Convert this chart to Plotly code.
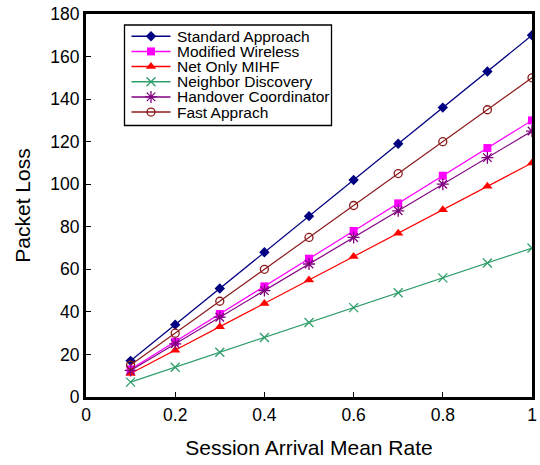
import plotly.graph_objects as go

x_rate = [0.1, 0.2, 0.3, 0.4, 0.5, 0.6, 0.7, 0.8, 0.9, 1.0]
standard = [17, 34, 51, 68, 85, 102, 119, 136, 153, 170]
modified = [13, 26, 39, 52, 65, 78, 91, 104, 117, 130]
net_only = [11, 22, 33, 44, 55, 66, 77, 88, 99, 110]
neighbor = [7, 14, 21, 28, 35, 42, 49, 56, 63, 70]
handover = [12.5, 25, 37.5, 50, 62.5, 75, 87.5, 100, 112.5, 125]
fast = [15, 30, 45, 60, 75, 90, 105, 120, 135, 150]

series_names = ["Standard Approach", "Modified Wireless", "Net Only MIHF",
                "Neighbor Discovery", "Handover Coordinator", "Fast Apprach"]
series_values = [standard, modified, net_only, neighbor, handover, fast]
series_colors = ["#000080", "#FF00FF", "#FF0000", "#2E9E6A", "#800080", "#8B1A1A"]
series_symbols = ["diamond", "square", "triangle-up", "x-thin-open", "asterisk-open", "circle-open"]
series_sizes = [8, 8, 9, 9, 10, 8]
series_open = [False, False, False, True, True, True]

# plot area in page pixels
L, R, T, B = 86, 532, 14, 397
W, H = 540, 465

fig = go.Figure()
for name, ys, color, sym, size, op in zip(series_names, series_values, series_colors,
                                           series_symbols, series_sizes, series_open):
    marker = dict(symbol=sym, size=size, color=color)
    if op:
        marker["line"] = dict(color=color, width=1.3)
    fig.add_trace(go.Scatter(x=x_rate, y=ys, name=name, mode="lines+markers",
                             line=dict(color=color, width=1.2), marker=marker,
                             showlegend=False))

# custom legend (pixel coordinates via overlay axes)
leg_left, leg_top, leg_right, leg_bottom = 124.5, 25, 331.5, 125.5
row0, row_step = 36.3, 15.15
for i, (name, color, sym, size, op) in enumerate(zip(series_names, series_colors,
                                                     series_symbols, series_sizes, series_open)):
    yy = row0 + i * row_step
    marker = dict(symbol=sym, size=size, color=color)
    if op:
        marker["line"] = dict(color=color, width=1.3)
    fig.add_trace(go.Scatter(x=[131.5, 151, 170.5], y=[yy, yy, yy], mode="lines+markers",
                             line=dict(color=color, width=1.5), marker=marker,
                             selectedpoints=[1], unselected=dict(marker=dict(opacity=0)),
                             xaxis="x2", yaxis="y2", showlegend=False, hoverinfo="skip"))
    fig.add_annotation(x=175, y=yy, xref="x2", yref="y2", text=name, showarrow=False,
                       xanchor="left", yanchor="middle",
                       font=dict(size=15.5, color="black"))

fig.add_shape(type="rect", xref="x2", yref="y2", x0=leg_left, x1=leg_right,
              y0=leg_top, y1=leg_bottom, line=dict(color="black", width=1.3),
              fillcolor="rgba(0,0,0,0)", layer="above")

fig.update_layout(
    width=W, height=H,
    margin=dict(l=L, r=W - R, t=T, b=H - B),
    paper_bgcolor="white", plot_bgcolor="white",
    font=dict(family="Liberation Sans, Arial", color="black"),
    showlegend=False,
    xaxis2=dict(overlaying="x", range=[L, R], visible=False, fixedrange=True),
    yaxis2=dict(overlaying="y", range=[B, T], visible=False, fixedrange=True),
)
fig.layout.xaxis.update(range=[0, 1], tickvals=[0, 0.2, 0.4, 0.6, 0.8, 1],
                        ticktext=["0", "0.2", "0.4", "0.6", "0.8", "1"],
                        ticks="inside", ticklen=5, tickwidth=1, tickcolor="black",
                        showline=True, linecolor="black", linewidth=3, mirror=True,
                        showgrid=False, zeroline=False, tickfont=dict(size=17.5),
                        automargin=False,
                        title=dict(text="Session Arrival Mean Rate", font=dict(size=21), standoff=17))
fig.layout.yaxis.update(range=[0, 180], tickvals=list(range(0, 181, 20)),
                        ticks="inside", ticklen=5, tickwidth=1, tickcolor="black",
                        showline=True, linecolor="black", linewidth=3, mirror=True,
                        showgrid=False, zeroline=False, tickfont=dict(size=17.5),
                        automargin=False,
                        title=dict(text="Packet Loss", font=dict(size=21), standoff=14))

fig.write_html("out.html", config=dict(displayModeBar=False),
               post_script="document.body.style.margin='0';document.body.style.padding='0';")
